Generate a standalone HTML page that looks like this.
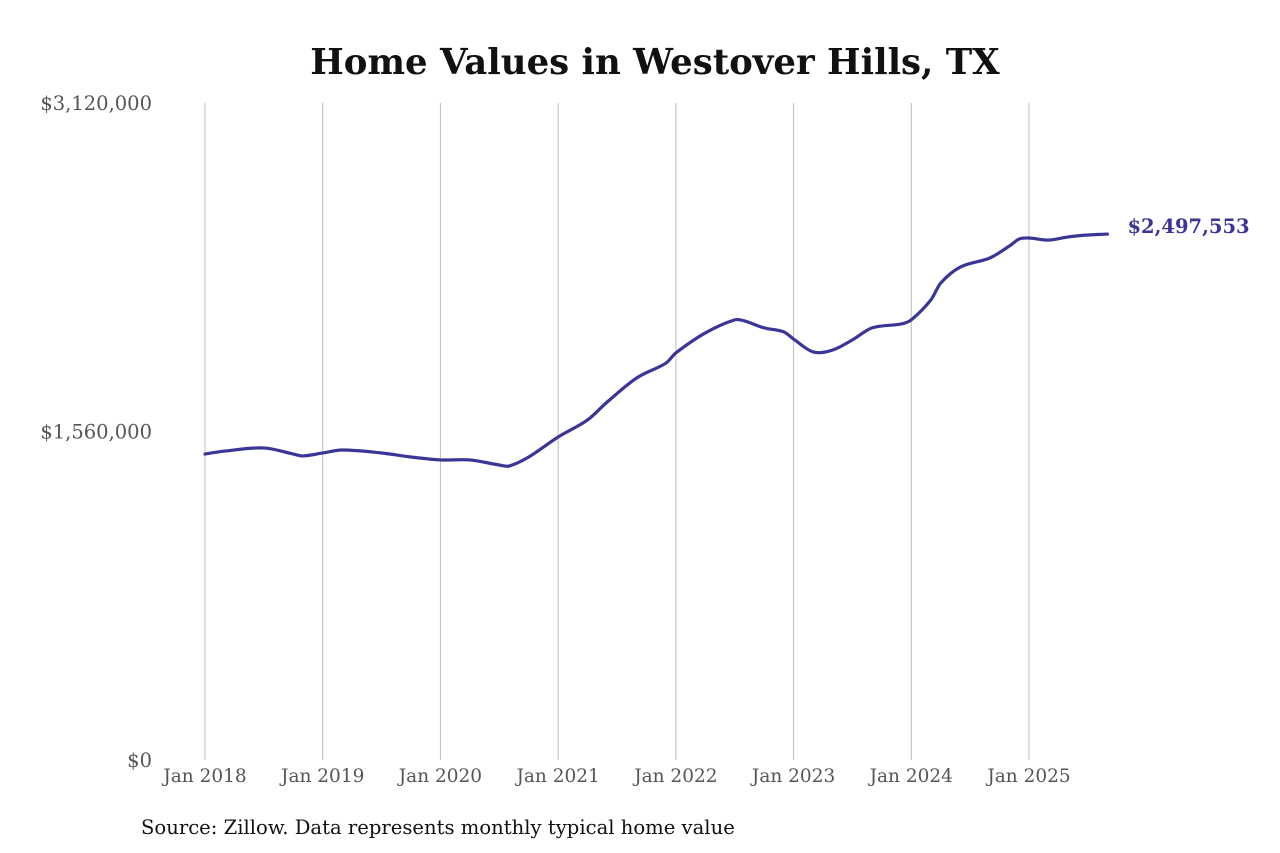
<!DOCTYPE html>
<html><head><meta charset="utf-8"><style>
html,body{margin:0;padding:0;background:#fff;}
svg{display:block;font-family:"DejaVu Serif","Liberation Serif",serif;}
</style></head><body>
<svg id="chart" width="1280" height="853">
<text x="655" y="74" text-anchor="middle" font-size="35.5" font-weight="bold" fill="#111">Home Values in Westover Hills, TX</text>
<g id="grid"></g><g id="yax"></g><g id="xax"></g><g id="series"></g>
<text x="141" y="834" font-size="19.6" fill="#111">Source: Zillow. Data represents monthly typical home value</text>
</svg>
<script>
const months=[0,2,6,9,10,12,14,18,21,24,27,30,31,33,36,39,41,44,47,48,51,54,55,57,59,60,62,64,66,68,71,72,74,75,77,80,82,83,84,86,88,90,92];
const values=[1453000,1467000,1482000,1453000,1444000,1458000,1472000,1458000,1439000,1425000,1425000,1401000,1396000,1439000,1534000,1615000,1700000,1814000,1885000,1933000,2028000,2090000,2085000,2052000,2033000,1999000,1938000,1947000,1995000,2052000,2071000,2090000,2185000,2265000,2341000,2384000,2441000,2474000,2479000,2469000,2484000,2493000,2497553];
const yTicks=[0,1560000,3120000];
const yTickLabels=["$0","$1,560,000","$3,120,000"];
const xTickMonths=[0,12,24,36,48,60,72,84];
const xTickLabels=["Jan 2018","Jan 2019","Jan 2020","Jan 2021","Jan 2022","Jan 2023","Jan 2024","Jan 2025"];
const endLabel="$2,497,553";
const NS="http://www.w3.org/2000/svg";
const x=m=>205+m*(824/84);
const y=v=>760-v/3120000*657;
function mk(t,a,p){const e=document.createElementNS(NS,t);for(const k in a)e.setAttribute(k,a[k]);p.appendChild(e);return e;}
const grid=document.getElementById('grid'),xax=document.getElementById('xax'),yax=document.getElementById('yax'),ser=document.getElementById('series');
xTickMonths.forEach((m,i)=>{
 const l=mk('line',{x1:x(m),x2:x(m),y1:103,y2:760,stroke:'#bdbdbd','stroke-width':1},grid);
 
 
 const t=mk('text',{x:x(m),y:782,'text-anchor':'middle','font-size':18.5,fill:'#555'},xax);
 t.textContent=xTickLabels[i];
 
 
});
yTicks.forEach((v,i)=>{
 const t=mk('text',{x:152,y:y(v)+7,'text-anchor':'end','font-size':19.5,fill:'#555'},yax);
 t.textContent=yTickLabels[i];
 
 
});
const pts=months.map((m,i)=>[x(m),y(values[i])]);
const n=pts.length;
const slope=i=>{const a=pts[Math.max(0,i-1)],b=pts[Math.min(n-1,i+1)];return (b[1]-a[1])/(b[0]-a[0]);};
let d='M'+pts[0][0]+','+pts[0][1];
for(let i=0;i<n-1;i++){
 const p1=pts[i],p2=pts[i+1],dx=(p2[0]-p1[0])/3;
 const m1=slope(i),m2=slope(i+1);
 d+=` C${p1[0]+dx},${p1[1]+m1*dx} ${p2[0]-dx},${p2[1]-m2*dx} ${p2[0]},${p2[1]}`;
}
const path=mk('path',{d:d,fill:'none',stroke:'#3a3597','stroke-width':3.2,'stroke-linejoin':'round','stroke-linecap':'round'},ser);


const last=pts[n-1];
const el=mk('text',{x:last[0]+20,y:last[1]-1,'font-size':19.5,'font-weight':'bold',fill:'#3a3597'},ser);
el.textContent=endLabel;


</script>
</body></html>
